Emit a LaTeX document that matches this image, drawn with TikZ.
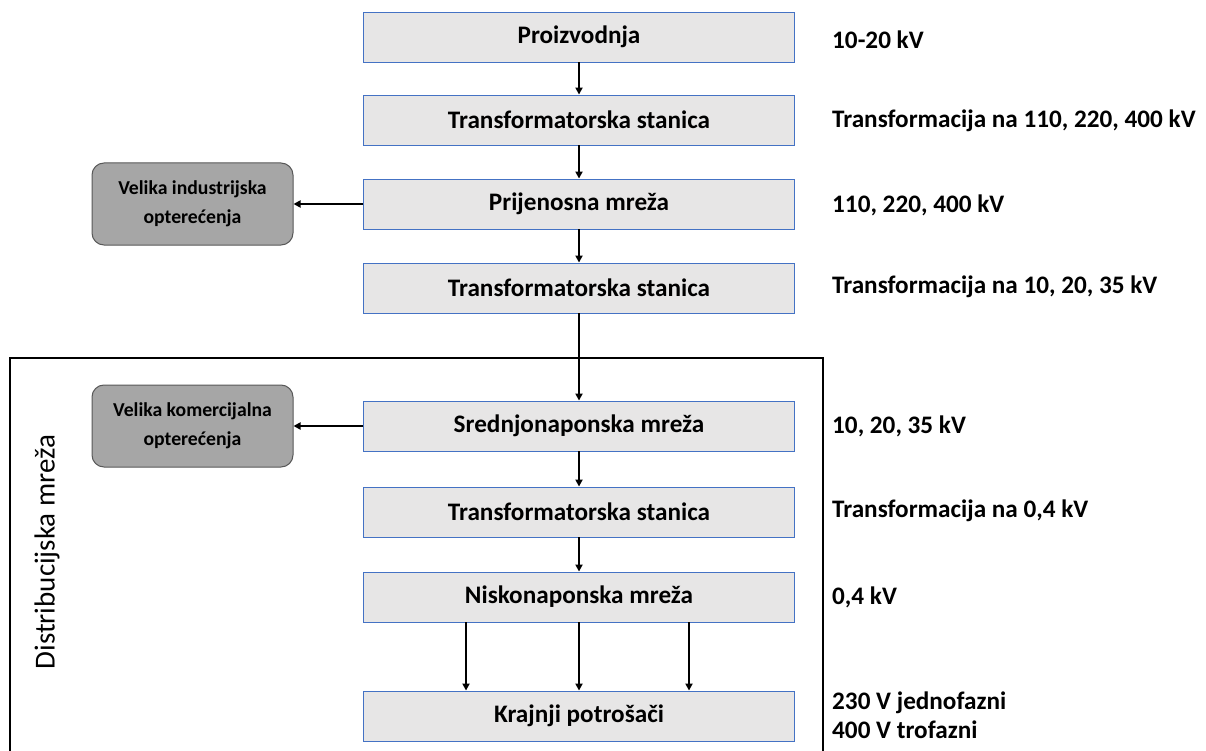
\documentclass[tikz,border=0pt]{standalone}
\usepackage{fontspec}
\setmainfont{Carlito}
\usetikzlibrary{arrows.meta}
\definecolor{boxfill}{HTML}{E7E6E6}
\definecolor{boxline}{HTML}{4472C4}
\definecolor{loadfill}{HTML}{A6A6A6}
\definecolor{loadline}{HTML}{595959}
\tikzset{
  stagebox/.style={draw=boxline, line width=0.9pt, fill=boxfill, minimum width=431pt, minimum height=50pt, inner sep=0pt, font=\fontsize{25.2}{29}\selectfont\bfseries},
  loadbox/.style={draw=loadline, line width=1pt, fill=loadfill, rounded corners=12pt, minimum width=201pt, minimum height=82pt, align=center, inner sep=0pt, font=\fontsize{19.7}{29}\selectfont\bfseries},
  volt/.style={anchor=west, inner sep=0pt, align=left, font=\fontsize{25.2}{29}\selectfont\bfseries},
  flow/.style={line width=1.8pt, -{Triangle[length=7pt,width=7pt]}},
}
\begin{document}
\begin{tikzpicture}[x=1pt,y=-1pt]
\useasboundingbox (0,0) rectangle (1206,751);
\fill[white] (0,0) rectangle (1206,751);
% outer distribution frame
\draw[line width=2pt] (10,770) -- (10,358) -- (823,358) -- (823,770);
\node[rotate=90, font=\fontsize{29}{33}\selectfont, inner sep=0pt] (dist) at (47,552) {Distribucijska mreža};
% stage boxes
\node[stagebox] (b1) at (579,37) {Proizvodnja};
\node[stagebox] (b2) at (579,120) {Transformatorska stanica};
\node[stagebox] (b3) at (579,204) {Prijenosna mreža};
\node[stagebox] (b4) at (579,288) {Transformatorska stanica};
\node[stagebox] (b5) at (579,426) {Srednjonaponska mreža};
\node[stagebox] (b6) at (579,512) {Transformatorska stanica};
\node[stagebox] (b7) at (579,597) {Niskonaponska mreža};
\node[stagebox] (b8) at (579,716) {Krajnji potrošači};
% load boxes
\node[loadbox] (l1) at (192.5,204) {Velika industrijska\\opterećenja};
\node[loadbox] (l2) at (192.5,426) {Velika komercijalna\\opterećenja};
% voltages
\node[volt] (v1) at (832,40) {10-20 kV};
\node[volt] (v2) at (832,121) {Transformacija na 110, 220, 400 kV};
\node[volt] (v3) at (832,205) {110, 220, 400 kV};
\node[volt] (v4) at (832,287) {Transformacija na 10, 20, 35 kV};
\node[volt] (v5) at (832,426) {10, 20, 35 kV};
\node[volt] (v6) at (832,511) {Transformacija na 0,4 kV};
\node[volt] (v7) at (832,597) {0,4 kV};
\node[volt] (v8) at (832,715) {230 V jednofazni\\400 V trofazni};
% connectors
\draw[flow] (b1) -- (b2);
\draw[flow] (b2) -- (b3);
\draw[flow] (b3) -- (b4);
\draw[flow] (b4) -- (b5);
\draw[flow] (b5) -- (b6);
\draw[flow] (b6) -- (b7);
\draw[flow] (b3) -- (l1);
\draw[flow] (b5) -- (l2);
\draw[flow] (b7.south -| 466,0) -- (b8.north -| 466,0);
\draw[flow] (b7) -- (b8);
\draw[flow] (b7.south -| 689,0) -- (b8.north -| 689,0);
\end{tikzpicture}
\end{document}
